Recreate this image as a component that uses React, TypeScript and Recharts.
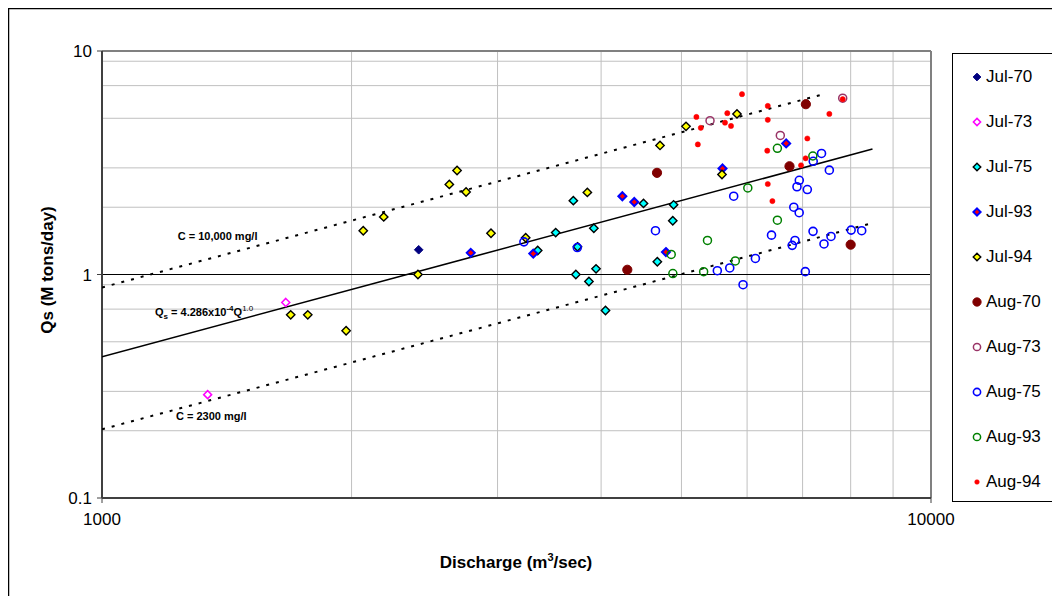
import React from 'react';
import { ScatterChart, Scatter, XAxis, YAxis, CartesianGrid } from 'recharts';

type Pt = [number, number];

// ---- data: [Discharge (m3/sec), Qs (M tons/day)] ----
const jul70: Pt[] = [[2410, 1.29], [2405, 1.0]];
const jul73: Pt[] = [[1666, 0.75], [1341, 0.29]];
const jul75: Pt[] = [[3354, 1.28], [3526, 1.54], [3703, 2.14], [3746, 1.33], [3729, 1.0], [3867, 0.93], [3920, 1.61], [3944, 1.06], [4049, 0.69], [4500, 2.08], [4676, 1.14], [4892, 2.05], [4881, 1.74]];
const jul93: Pt[] = [[2785, 1.25], [3313, 1.24], [4243, 2.24], [4386, 2.11], [4789, 1.26], [5604, 2.98], [6688, 3.86]];
const jul94: Pt[] = [[1689, 0.66], [1771, 0.66], [1970, 0.56], [2066, 1.57], [2187, 1.81], [2405, 1.0], [2624, 2.53], [2681, 2.92], [2749, 2.34], [2946, 1.53], [3244, 1.46], [3850, 2.33], [4711, 3.78], [5064, 4.6], [5834, 5.23], [5596, 2.8]];
const aug70: Pt[] = [[4672, 2.85], [4302, 1.05], [7064, 5.78], [6750, 3.05], [8000, 1.36]];
const aug73: Pt[] = [[5413, 4.88], [6580, 4.19], [7825, 6.15]];
const aug75: Pt[] = [[3228, 1.4], [3744, 1.32], [4652, 1.57], [5524, 1.04], [5718, 1.07], [5781, 2.24], [5933, 0.9], [6140, 1.18], [6421, 1.5], [6801, 1.35], [6854, 1.42], [6831, 2.0], [6934, 1.89], [6892, 2.47], [6936, 2.64], [7093, 2.4], [7053, 1.03], [7206, 1.56], [7210, 3.21], [7378, 3.48], [7429, 1.37], [7540, 2.93], [7575, 1.48], [8011, 1.58], [8249, 1.57]];
const aug93: Pt[] = [[4860, 1.23], [4882, 1.01], [5318, 1.03], [5375, 1.42], [5807, 1.15], [6012, 2.44], [6527, 3.67], [6527, 1.75], [7202, 3.39]];
const aug94: Pt[] = [[5212, 5.07], [5276, 4.53], [5233, 3.82], [5643, 4.78], [5679, 5.27], [5738, 4.62], [5916, 6.41], [6355, 5.68], [6355, 4.92], [6346, 3.58], [6355, 2.54], [6437, 2.13], [6970, 3.08], [7059, 3.31], [7093, 4.06], [7540, 5.23], [7825, 6.09]];

// reference lines (end points)
const fitLine: Pt[] = [[1000, 0.4286], [8500, 3.643]];
const c10000Line: Pt[] = [[1000, 0.875], [7420, 6.41]];
const c2300Line: Pt[] = [[1000, 0.203], [8500, 1.7]];

// axes
const xDomain = [1000, 10000];
const yDomain = [0.1, 10];
const xTicks = [1000, 10000];
const yTicks = [0.1, 1, 10];
const xMinor = [2000, 3000, 4000, 5000, 6000, 7000, 8000, 9000];
const yMinor = [0.2, 0.3, 0.4, 0.5, 0.6, 0.7, 0.8, 0.9, 2, 3, 4, 5, 6, 7, 8, 9];

const toData = (pts: Pt[]) => pts.map(([x, y]) => ({ x, y }));

type Kind = 'diamond' | 'circle';
interface Style { name: string; pts: Pt[]; kind: Kind; r: number; fill: string; stroke: string; sw: number; }

const series: Style[] = [
  { name: 'Jul-70', pts: jul70, kind: 'diamond', r: 4.3, fill: '#000080', stroke: '#000080', sw: 1 },
  { name: 'Jul-73', pts: jul73, kind: 'diamond', r: 4, fill: '#ffffff', stroke: '#ff00ff', sw: 1.5 },
  { name: 'Jul-75', pts: jul75, kind: 'diamond', r: 4.2, fill: '#00ffff', stroke: '#000000', sw: 1.4 },
  { name: 'Jul-93', pts: jul93, kind: 'diamond', r: 4, fill: '#ff0000', stroke: '#0000ff', sw: 2 },
  { name: 'Jul-94', pts: jul94, kind: 'diamond', r: 4.2, fill: '#ffff00', stroke: '#000000', sw: 1.4 },
  { name: 'Aug-70', pts: aug70, kind: 'circle', r: 4.6, fill: '#800000', stroke: '#800000', sw: 1 },
  { name: 'Aug-73', pts: aug73, kind: 'circle', r: 4, fill: 'none', stroke: '#993366', sw: 1.5 },
  { name: 'Aug-75', pts: aug75, kind: 'circle', r: 4, fill: 'none', stroke: '#0000ff', sw: 1.6 },
  { name: 'Aug-93', pts: aug93, kind: 'circle', r: 4, fill: 'none', stroke: '#008000', sw: 1.5 },
  { name: 'Aug-94', pts: aug94, kind: 'circle', r: 2.6, fill: '#ff0000', stroke: '#ff0000', sw: 0.5 },
];

const FONT = "'Liberation Sans', Arial, sans-serif";
const W = 1052;
const H = 588;

function Marker({ s, cx, cy, scale = 1 }: { s: Style; cx: number; cy: number; scale?: number }) {
  const r = s.r * scale;
  if (s.kind === 'diamond') {
    return (
      <polygon
        points={`${cx},${cy - r} ${cx + r},${cy} ${cx},${cy + r} ${cx - r},${cy}`}
        fill={s.fill}
        stroke={s.stroke}
        strokeWidth={s.sw}
      />
    );
  }
  return <circle cx={cx} cy={cy} r={r} fill={s.fill} stroke={s.stroke} strokeWidth={s.sw} />;
}

const makeShape = (s: Style) => (props: any) => {
  const { cx, cy } = props;
  if (cx == null || cy == null) return <g />;
  return <Marker s={s} cx={cx} cy={cy} />;
};

const noShape = () => <g />;

function LegendBox() {
  return (
    <div
      style={{
        position: 'absolute',
        left: 944,
        top: 45,
        width: 104,
        height: 447,
        border: '1px solid #000',
        background: '#fff',
        fontFamily: FONT,
        fontSize: 17,
      }}
    >
      {series.map((s, i) => (
        <div
          key={s.name}
          style={{ position: 'absolute', left: 0, top: 23 - 9 + i * 45, height: 18, display: 'flex', alignItems: 'center' }}
        >
          <svg width={32} height={18} style={{ display: 'block' }}>
            <Marker s={s} cx={24} cy={9} scale={0.9} />
          </svg>
          <span style={{ marginLeft: 1, lineHeight: '18px', color: '#000' }}>{s.name}</span>
        </div>
      ))}
    </div>
  );
}

function Overlay() {
  return (
    <svg
      width={W}
      height={H}
      style={{ position: 'absolute', left: 0, top: 0, pointerEvents: 'none', fontFamily: FONT }}
    >
      <line x1={0.5} y1={0} x2={0.5} y2={H} stroke="#000" strokeWidth={1.5} />
      <line x1={0} y1={0.5} x2={W} y2={0.5} stroke="#000" strokeWidth={1.5} />
      <text x={169.7} y={231.6} fontSize={11} fontWeight="bold" fill="#000">C = 10,000 mg/l</text>
      <text x={147} y={307.6} fontSize={11} fontWeight="bold" fill="#000">
        Q<tspan fontSize={8} dy={3}>s</tspan>
        <tspan dy={-3}> = 4.286x10</tspan>
        <tspan fontSize={8} dy={-5}>-4</tspan>
        <tspan dy={5}>Q</tspan>
        <tspan fontSize={8} dy={-5} fontWeight="normal">1.0</tspan>
      </text>
      <text x={168} y={411.6} fontSize={11} fontWeight="bold" fill="#000">C = 2300 mg/l</text>
      <text x={508} y={559.8} textAnchor="middle" fontSize={17} fontWeight="bold" fill="#000">
        Discharge (m<tspan dy={-7} fontSize={11}>3</tspan>
        <tspan dy={7}>/sec)</tspan>
      </text>
      <text
        x={39}
        y={262}
        transform="rotate(-90, 39, 262)"
        textAnchor="middle"
        dominantBaseline="central"
        fontSize={17}
        fontWeight="bold"
        fill="#000"
      >
        Qs (M tons/day)
      </text>
    </svg>
  );
}

export default function App() {
  return (
    <div style={{ position: 'relative', width: W, height: H, fontFamily: FONT, background: '#fff' }}>
      <ScatterChart width={W} height={H} margin={{ top: 43, right: 129, bottom: 58, left: 0 }}>
        <CartesianGrid
          stroke="#c0c0c0"
          strokeWidth={1}
          horizontalValues={yMinor}
          verticalValues={xMinor}
        />
        <CartesianGrid stroke="#000000" strokeWidth={1} horizontalValues={[1]} vertical={false} />
        <CartesianGrid stroke="#808080" strokeWidth={2} horizontalValues={[10]} verticalValues={[10000]} />
        <XAxis
          dataKey="x"
          type="number"
          scale="log"
          domain={xDomain}
          ticks={xTicks}
          allowDataOverflow
          height={40}
          tickSize={5}
          tickMargin={10}
          stroke="#404040"
          axisLine={{ stroke: '#404040', strokeWidth: 2 }}
          tick={{ fill: '#000', fontSize: 17, fontFamily: FONT }}
        />
        <YAxis
          dataKey="y"
          type="number"
          scale="log"
          domain={yDomain}
          ticks={yTicks}
          allowDataOverflow
          width={94}
          tickSize={5}
          tickMargin={5}
          stroke="#404040"
          axisLine={{ stroke: '#404040', strokeWidth: 2 }}
          tick={{ fill: '#000', fontSize: 17, fontFamily: FONT }}
        />
        <Scatter
          name="C = 10,000 mg/l"
          data={toData(c10000Line)}
          line={{ stroke: '#000', strokeWidth: 2, strokeDasharray: '3 7' }}
          shape={noShape}
          legendType="none"
          isAnimationActive={false}
        />
        <Scatter
          name="C = 2300 mg/l"
          data={toData(c2300Line)}
          line={{ stroke: '#000', strokeWidth: 2, strokeDasharray: '3 7' }}
          shape={noShape}
          legendType="none"
          isAnimationActive={false}
        />
        <Scatter
          name="fit"
          data={toData(fitLine)}
          line={{ stroke: '#000', strokeWidth: 1.6 }}
          shape={noShape}
          legendType="none"
          isAnimationActive={false}
        />
        {series.map((s) => (
          <Scatter
            key={s.name}
            name={s.name}
            data={toData(s.pts)}
            shape={makeShape(s)}
            isAnimationActive={false}
          />
        ))}
      </ScatterChart>
      <Overlay />
      <LegendBox />
    </div>
  );
}
